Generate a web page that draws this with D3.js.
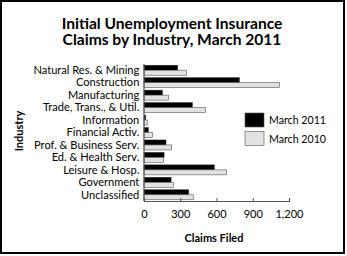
<!DOCTYPE html>
<html>
<head>
<meta charset="utf-8">
<script src="https://cdn.jsdelivr.net/npm/d3@7"></script>
<style>
  body { margin: 0; background: #fff; }
  text { font-family: Lato, "Open Sans", sans-serif; fill: #000; }
  .title { font-weight: bold; font-size: 15.6px; }
  .tick text { font-size: 11px; }
  .tick text.cat { font-size: 11.8px; }
  .label { font-weight: bold; font-size: 11px; }
  .legtext { font-size: 11.8px; }
</style>
</head>
<body>
<svg id="chart" width="347" height="256"></svg>
<script>
// data
const industries = ['Natural Res. & Mining', 'Construction', 'Manufacturing', 'Trade, Trans., & Util.',
  'Information', 'Financial Activ.', 'Prof. & Business Serv.', 'Ed. & Health Serv.',
  'Leisure & Hosp.', 'Government', 'Unclassified'];
const march2011 = [279, 789, 152, 400, 14, 36, 182, 166, 582, 224, 370];
const march2010 = [350, 1120, 202, 508, 28, 69, 229, 163, 684, 243, 408];
const seriesNames = ['March 2011', 'March 2010'];
const xTicks = [0, 300, 600, 900, 1200];

const svg = d3.select('#chart');

// frame
svg.append('rect')
  .attr('x', 1).attr('y', 1)
  .attr('width', 343).attr('height', 252)
  .attr('fill', 'none').attr('stroke', '#000').attr('stroke-width', 2);

// title
svg.append('text').attr('class', 'title')
  .attr('x', 172).attr('y', 28.5).attr('text-anchor', 'middle')
  .text('Initial Unemployment Insurance');
svg.append('text').attr('class', 'title')
  .attr('x', 172).attr('y', 45).attr('text-anchor', 'middle')
  .text('Claims by Industry, March 2011');

const plotLeft = 144, plotTop = 64, plotW = 145, plotH = 137;

const x = d3.scaleLinear().domain([0, 1200]).range([plotLeft, plotLeft + plotW]);
const y = d3.scaleBand().domain(industries).range([plotTop, plotTop + plotH]).paddingInner(0.2).paddingOuter(0.1);
const y2 = d3.scaleBand().domain(seriesNames).range([0, y.bandwidth()]);

const rows = svg.append('g').selectAll('g')
  .data(industries).enter()
  .append('g')
  .attr('transform', d => `translate(0,${y(d)})`);

rows.append('rect')
  .attr('x', x(0))
  .attr('y', y2('March 2011'))
  .attr('width', (d, i) => x(march2011[i]) - x(0))
  .attr('height', y2.bandwidth())
  .attr('fill', '#000').attr('stroke', '#222').attr('stroke-width', 0.5);

rows.append('rect')
  .attr('x', x(0))
  .attr('y', y2('March 2010'))
  .attr('width', (d, i) => x(march2010[i]) - x(0))
  .attr('height', y2.bandwidth())
  .attr('fill', '#e2e2e2').attr('stroke', '#555').attr('stroke-width', 0.6);

// y axis
const yAxis = svg.append('g')
  .attr('transform', `translate(${plotLeft},0)`)
  .call(d3.axisLeft(y).tickSize(0).tickPadding(5));
yAxis.select('.domain').attr('stroke', '#555').attr('stroke-width', 1.2)
  .attr('d', `M0,${plotTop}V${plotTop + plotH}`);
yAxis.selectAll('.tick text')
  .attr('class', 'cat')
  .attr('font-family', null).attr('font-size', null)
  .attr('transform', 'scale(0.94,1)');

// x axis
const xAxis = svg.append('g')
  .attr('transform', `translate(0,${plotTop + plotH})`)
  .call(d3.axisBottom(x).tickValues(xTicks).tickSize(-3).tickPadding(9).tickFormat(d3.format(',')));
xAxis.select('.domain').attr('stroke', '#555').attr('stroke-width', 1.2);
xAxis.selectAll('.tick line').attr('stroke', '#555');
xAxis.selectAll('.tick text').attr('font-family', null).attr('font-size', null);

// axis titles
svg.append('text').attr('class', 'label')
  .attr('x', 214).attr('y', 242).attr('text-anchor', 'middle')
  .text('Claims Filed');
svg.append('text').attr('class', 'label')
  .attr('transform', 'translate(23,131) rotate(-90)')
  .attr('text-anchor', 'middle')
  .attr('font-size', 12.5)
  .text('Industry');

// legend
const legendColors = ['#000', '#e2e2e2'];
const legend = svg.append('g').selectAll('g')
  .data(seriesNames).enter()
  .append('g')
  .attr('transform', (d, i) => `translate(245,${113 + i * 18.5})`);
legend.append('rect')
  .attr('width', 19).attr('height', 14)
  .attr('fill', (d, i) => legendColors[i])
  .attr('stroke', '#555').attr('stroke-width', 0.6);
legend.append('text')
  .attr('class', 'legtext')
  .attr('transform', 'translate(24,11) scale(0.9,1)')
  .text(d => d);
</script>
</body>
</html>
